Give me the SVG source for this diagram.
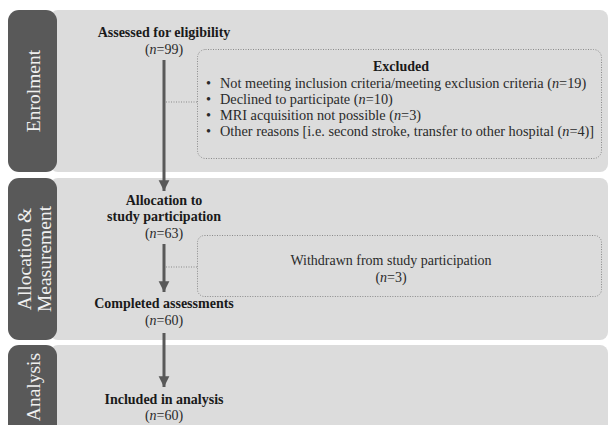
<svg xmlns="http://www.w3.org/2000/svg" width="610" height="425" viewBox="0 0 610 425">
<style>
.band{fill:#dcdcdc}
.tab{fill:#595959}
.tabt{font-family:"Liberation Serif","Times New Roman",serif;font-size:19.5px;fill:#f0f0f0;text-anchor:middle}
.h{font-family:"Liberation Serif","Times New Roman",serif;font-size:14px;font-weight:bold;fill:#1a1a1a;text-anchor:middle}
.n{font-family:"Liberation Serif","Times New Roman",serif;font-size:14px;fill:#2a2a2a;text-anchor:middle}
.t{font-family:"Liberation Serif","Times New Roman",serif;font-size:14.3px;fill:#2a2a2a}
.box{fill:none;stroke:#8a8a8a;stroke-width:1;stroke-dasharray:1 1.5}
.dot{stroke:#8a8a8a;stroke-width:1;stroke-dasharray:1 1.5;fill:none}
.arr{stroke:#595959;stroke-width:3;fill:none;marker-end:url(#ah)}
</style>
<defs>
<marker id="ah" markerWidth="4" markerHeight="4" refX="3.6" refY="2" orient="auto" markerUnits="strokeWidth">
<path d="M0,0.2 L3.6,2 L0,3.8 Z" fill="#595959"/>
</marker>
</defs>
<rect width="610" height="425" fill="#ffffff"/>
<g id="band-enrolment">
<rect class="band" x="50" y="10" width="558" height="162" rx="8"/>
<rect class="tab" x="8" y="10" width="49" height="162" rx="11"/>
<text class="tabt" transform="translate(40,91) rotate(-90)">Enrolment</text>
</g>
<g id="band-allocation">
<rect class="band" x="50" y="178" width="558" height="162" rx="8"/>
<rect class="tab" x="8" y="178" width="49" height="162" rx="11"/>
<text class="tabt" transform="translate(31,259) rotate(-90)">Allocation &amp;</text>
<text class="tabt" transform="translate(51,259) rotate(-90)">Measurement</text>
</g>
<g id="band-analysis">
<rect class="band" x="50" y="345" width="558" height="95" rx="8"/>
<rect class="tab" x="8" y="345" width="49" height="95" rx="11"/>
<text class="tabt" transform="translate(40,387) rotate(-90)">Analysis</text>
</g>
<g id="connectors">
<line class="arr" x1="164" y1="60" x2="164" y2="191"/>
<line class="arr" x1="164" y1="244" x2="164" y2="292"/>
<line class="arr" x1="164" y1="333" x2="164" y2="387"/>
<line class="dot" x1="166" y1="102" x2="197" y2="102"/>
<line class="dot" x1="166" y1="267" x2="197" y2="267"/>
</g>
<g id="node-assessed">
<text class="h" x="164" y="37">Assessed for eligibility</text>
<text class="n" x="164" y="54">(<tspan font-style="italic">n</tspan>=99)</text>
</g>
<g id="node-excluded">
<rect class="box" x="197.5" y="49.5" width="404" height="109" rx="8"/>
<text class="h" x="401" y="71">Excluded</text>
<text class="t" x="206" y="88">•</text>
<text class="t" x="220" y="88">Not meeting inclusion criteria/meeting exclusion criteria (<tspan font-style="italic">n</tspan>=19)</text>
<text class="t" x="206" y="104">•</text>
<text class="t" x="220" y="104">Declined to participate (<tspan font-style="italic">n</tspan>=10)</text>
<text class="t" x="206" y="120">•</text>
<text class="t" x="220" y="120">MRI acquisition not possible (<tspan font-style="italic">n</tspan>=3)</text>
<text class="t" x="206" y="136">•</text>
<text class="t" x="220" y="136">Other reasons [i.e. second stroke, transfer to other hospital (<tspan font-style="italic">n</tspan>=4)]</text>
</g>
<g id="node-allocation">
<text class="h" x="164" y="205">Allocation to</text>
<text class="h" x="164" y="221">study participation</text>
<text class="n" x="164" y="238">(<tspan font-style="italic">n</tspan>=63)</text>
</g>
<g id="node-withdrawn">
<rect class="box" x="197.5" y="235.5" width="404" height="61" rx="7"/>
<text class="n" x="391" y="265">Withdrawn from study participation</text>
<text class="n" x="391" y="282">(<tspan font-style="italic">n</tspan>=3)</text>
</g>
<g id="node-completed">
<text class="h" x="164" y="308">Completed assessments</text>
<text class="n" x="164" y="325">(<tspan font-style="italic">n</tspan>=60)</text>
</g>
<g id="node-included">
<text class="h" x="164" y="404">Included in analysis</text>
<text class="n" x="164" y="420">(<tspan font-style="italic">n</tspan>=60)</text>
</g>
</svg>
